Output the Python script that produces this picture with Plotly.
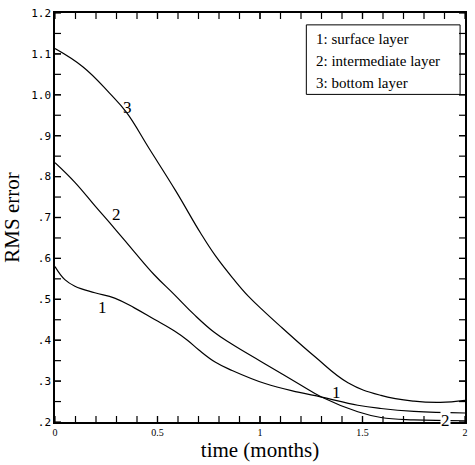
import plotly.graph_objects as go

# Data
x1 = [0.0, 0.048, 0.097, 0.194, 0.291, 0.387, 0.484, 0.581, 0.646, 0.702, 0.783, 0.864, 1.025, 1.186, 1.30, 1.477, 1.59, 1.751, 2.0]
y1 = [0.58, 0.548, 0.532, 0.516, 0.503, 0.479, 0.451, 0.423, 0.400, 0.376, 0.346, 0.326, 0.294, 0.273, 0.261, 0.241, 0.233, 0.226, 0.222]

x2 = [0.0, 0.097, 0.194, 0.291, 0.387, 0.484, 0.581, 0.678, 0.775, 0.864, 1.025, 1.186, 1.30, 1.477, 1.59, 1.751, 2.0]
y2 = [0.834, 0.786, 0.729, 0.673, 0.616, 0.560, 0.512, 0.463, 0.420, 0.390, 0.342, 0.294, 0.261, 0.225, 0.211, 0.205, 0.203]

x3 = [0.0, 0.137, 0.266, 0.347, 0.46, 0.589, 0.71, 0.783, 0.87, 0.944, 1.025, 1.106, 1.267, 1.429, 1.59, 1.751, 1.88, 2.0]
y3 = [1.113, 1.068, 1.004, 0.958, 0.868, 0.765, 0.662, 0.606, 0.550, 0.507, 0.468, 0.431, 0.360, 0.296, 0.265, 0.251, 0.248, 0.253]

x_tickvals = [0, 0.5, 1, 1.5, 2]
x_ticktext = ["0", "0.5", "1", "1.5", "2"]
y_tickvals = [0.2, 0.3, 0.4, 0.5, 0.6, 0.7, 0.8, 0.9, 1.0, 1.1, 1.2]
y_ticktext = [".2", ".3", ".4", ".5", ".6", ".7", ".8", ".9", "1.0", "1.1", "1.2"]
x_minor = [round(i * 0.1, 2) for i in range(1, 20)]
y_minor = [round(0.2 + i * 0.05, 3) for i in range(1, 20)]

curve_labels = [("3", 0.353, 0.968), ("2", 0.299, 0.707), ("1", 0.234, 0.481), ("1", 1.372, 0.271)]
legend_lines = ["1: surface layer", "2: intermediate layer", "3: bottom layer"]

fig = go.Figure()
for xs, ys in [(x1, y1), (x2, y2), (x3, y3)]:
    fig.add_trace(go.Scatter(x=xs, y=ys, mode="lines",
                             line=dict(color="black", width=1.2, shape="spline", smoothing=1.2),
                             showlegend=False, hoverinfo="skip"))

serif = "Liberation Serif, Times New Roman, serif"
for t, xx, yy in curve_labels:
    fig.add_annotation(x=xx, y=yy, text=t, showarrow=False, font=dict(family=serif, size=17, color="black"))
# label "2" at the end of curve 2, masking the line
fig.add_annotation(x=1.905, y=0.203, text="2", showarrow=False, bgcolor="white",
                   font=dict(family=serif, size=17, color="black"), borderpad=0)

# legend box
fig.add_shape(type="rect", xref="paper", yref="paper", x0=0.613, x1=0.988, y0=0.801, y1=0.971,
              line=dict(color="black", width=1), fillcolor="white")
for i, s in enumerate(legend_lines):
    fig.add_annotation(xref="paper", yref="paper", x=0.631, y=0.937 - i * 0.0545, text=s, showarrow=False,
                       xanchor="left", yanchor="middle", font=dict(family=serif, size=15, color="black"))

# inside tick marks on all four sides (pixel-length segments anchored at axis positions)
TL = 6
tick_line = dict(color="black", width=1.2)
for xv in x_tickvals + x_minor:
    fig.add_shape(type="line", xref="x", yref="paper", ysizemode="pixel", yanchor=0,
                  x0=xv, x1=xv, y0=0, y1=TL, line=tick_line)
    fig.add_shape(type="line", xref="x", yref="paper", ysizemode="pixel", yanchor=1,
                  x0=xv, x1=xv, y0=0, y1=-TL, line=tick_line)
for yv in y_tickvals + y_minor:
    fig.add_shape(type="line", xref="paper", yref="y", xsizemode="pixel", xanchor=0,
                  x0=0, x1=TL, y0=yv, y1=yv, line=tick_line)
    fig.add_shape(type="line", xref="paper", yref="y", xsizemode="pixel", xanchor=1,
                  x0=0, x1=-TL, y0=yv, y1=yv, line=tick_line)

axis_common = dict(ticks="", showline=True, linecolor="black", linewidth=1.5, mirror=True,
                   showgrid=False, zeroline=False, tickmode="array")

fig.update_layout(
    width=475, height=465,
    margin=dict(l=55, r=7, t=9, b=43),
    plot_bgcolor="white", paper_bgcolor="white",
    xaxis=dict(range=[0, 2], tickvals=x_tickvals, ticktext=x_ticktext,
               tickfont=dict(family=serif, size=10, color="black"),
               title=dict(text="time (months)", font=dict(family=serif, size=21, color="black"), standoff=2),
               **axis_common),
    yaxis=dict(range=[0.2, 1.2], tickvals=y_tickvals, ticktext=y_ticktext,
               tickfont=dict(family="DejaVu Sans Mono, monospace", size=11, color="black"),
               title=dict(text="RMS error", font=dict(family=serif, size=21, color="black"), standoff=6),
               **axis_common),
)

fig.write_html("out.html")
